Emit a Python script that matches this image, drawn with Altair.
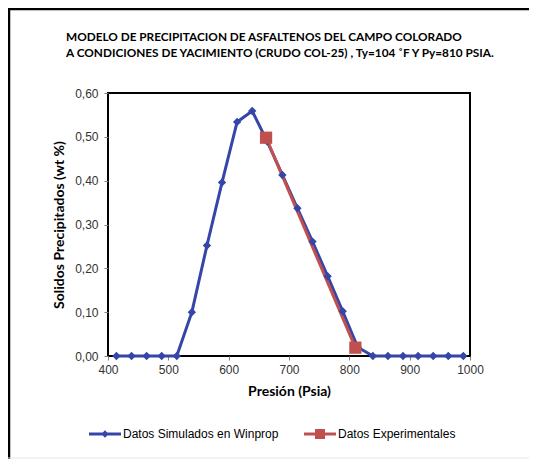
import altair as alt
import pandas as pd

# Simulated data (Winprop)
sim_p = [414, 439, 464, 489, 514, 539, 564, 589, 614, 639, 664, 689,
         714, 739, 764, 789, 814, 839, 864, 889, 914, 939, 964, 989]
sim_w = [0.0, 0.0, 0.0, 0.0, 0.0, 0.100, 0.252, 0.396, 0.534, 0.559, 0.489, 0.413,
         0.337, 0.261, 0.182, 0.102, 0.020, 0.0, 0.0, 0.0, 0.0, 0.0, 0.0, 0.0]

# Experimental data
exp_p = [662, 810]
exp_w = [0.498, 0.019]

series_names = ["Datos Simulados en Winprop", "Datos Experimentales"]
x_ticks = [400, 500, 600, 700, 800, 900, 1000]
y_ticks = [0.0, 0.1, 0.2, 0.3, 0.4, 0.5, 0.6]

title_lines = ["MODELO DE PRECIPITACION DE ASFALTENOS DEL CAMPO  COLORADO",
               "A CONDICIONES DE YACIMIENTO (CRUDO COL-25) , Ty=104 ˚F Y Py=810 PSIA."]

BLUE = "#3645A8"
RED = "#C0504D"

sim_df = pd.DataFrame({"p": sim_p, "w": sim_w, "serie": series_names[0]})
exp_df = pd.DataFrame({"p": exp_p, "w": exp_w, "serie": series_names[1]})
leg_df = pd.concat([sim_df, exp_df], ignore_index=True)

x_enc = alt.X("p:Q", scale=alt.Scale(domain=[400, 1000], nice=False),
              axis=alt.Axis(values=x_ticks, title="Presión (Psia)", grid=False, format="d",
                            domain=False, tickSize=4, tickColor="#808080", labelFlush=False,
                            labelFont="Liberation Sans", labelFontSize=12,
                            labelColor="#333333", labelPadding=4,
                            titleFont="Lato", titleFontSize=14, titleFontWeight="bold",
                            titleColor="#000000", titlePadding=9))
y_enc = alt.Y("w:Q", scale=alt.Scale(domain=[0, 0.6], nice=False),
              axis=alt.Axis(values=y_ticks, title="Solidos Precipitados (wt %)", grid=False,
                            domain=False, tickSize=4, tickColor="#808080", labelFlush=False,
                            labelExpr="replace(format(datum.value, '.2f'), '.', ',')",
                            labelFont="Liberation Sans", labelFontSize=12,
                            labelColor="#333333", labelPadding=6,
                            titleFont="Lato", titleFontSize=14, titleFontWeight="bold",
                            titleColor="#000000", titlePadding=8))

deco = pd.DataFrame({"a": [0]})
frame_top = alt.Chart(deco).mark_rule(color="#000000", strokeWidth=2.5).encode(
    x=alt.value(-100), x2=alt.value(440), y=alt.value(-84))
frame_left = alt.Chart(deco).mark_rule(color="#000000", strokeWidth=2.5).encode(
    x=alt.value(-99), y=alt.value(-85), y2=alt.value(366))
frame_bottom = alt.Chart(deco).mark_rule(color="#e6e6e6", strokeWidth=1).encode(
    x=alt.value(-100), x2=alt.value(440), y=alt.value(365))

sim_line = alt.Chart(sim_df).mark_line(color=BLUE, strokeWidth=3).encode(x=x_enc, y=y_enc)
exp_line = alt.Chart(exp_df).mark_line(color=RED, strokeWidth=3).encode(x="p:Q", y="w:Q")
sim_pts = alt.Chart(sim_df).mark_point(shape="diamond", filled=True, color=BLUE,
                                       size=70, opacity=1).encode(x="p:Q", y="w:Q")
exp_pts = alt.Chart(exp_df).mark_point(shape="square", filled=True, color=RED,
                                       size=150, opacity=1).encode(x="p:Q", y="w:Q")

leg = alt.Legend(title=None, orient="none", direction="horizontal",
                 legendX=-9, legendY=335, symbolSize=100,
                 symbolStrokeWidth=0, labelOffset=12,
                 columnPadding=25, labelFont="Liberation Sans",
                 labelFontSize=12, labelColor="#000000")

legend_layer = alt.Chart(leg_df).transform_filter("false").mark_point(
    filled=True, opacity=1
).encode(
    x="p:Q", y="w:Q",
    color=alt.Color("serie:N", scale=alt.Scale(domain=series_names, range=[BLUE, RED]),
                    legend=leg),
    shape=alt.Shape("serie:N", scale=alt.Scale(
        domain=series_names,
        range=["M-3.2,-0.3H3.2V0.3H-3.2ZM0,-0.75L0.75,0L0,0.75L-0.75,0Z",
               "M-3.2,-0.3H3.2V0.3H-3.2ZM-1,-1H1V1H-1Z"]),
        legend=leg),
)

chart = alt.layer(frame_top, frame_left, frame_bottom, sim_line, exp_line, sim_pts,
                  exp_pts, legend_layer).properties(
    width=362, height=263,
    title=alt.TitleParams(text=title_lines, anchor="start", frame="group", dx=-42,
                          offset=-53, font="Lato", fontSize=11.8, fontWeight="bold",
                          color="#000000", lineHeight=16),
    autosize=alt.AutoSizeParams(type="none"),
    padding={"left": 100, "top": 85, "right": 59, "bottom": 103},
).configure(background="#ffffff", view=alt.ViewConfig(stroke="#000000", strokeWidth=2))

chart.save("out.html", embed_options={"renderer": "svg", "actions": False})
